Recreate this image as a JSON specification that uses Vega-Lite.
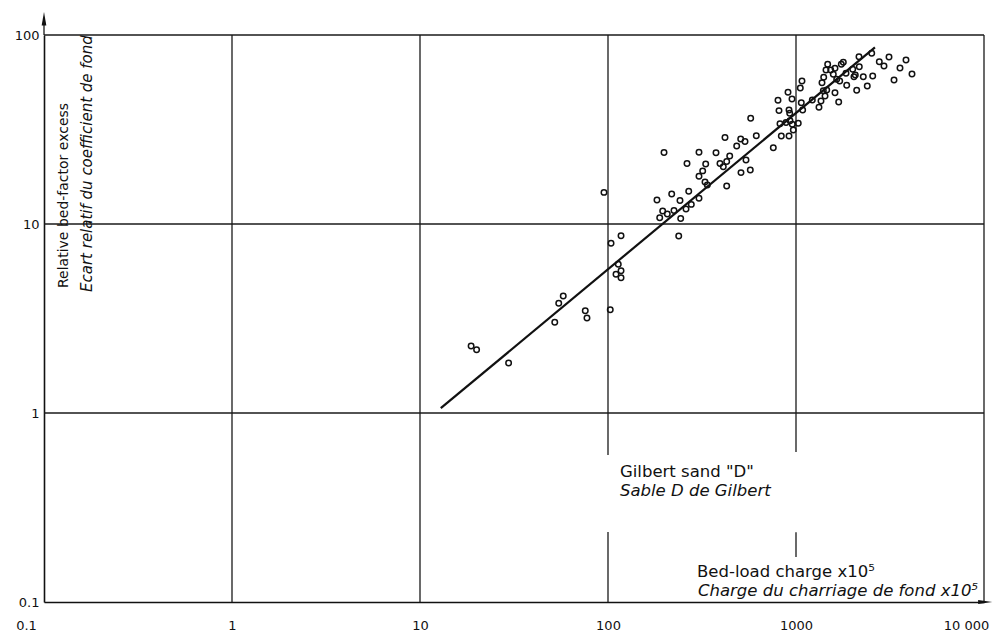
{
  "$schema": "https://vega.github.io/schema/vega-lite/v6.json",
  "autosize": "none",
  "width": 940,
  "height": 567,
  "padding": {"left": 44, "top": 35, "right": 12, "bottom": 35},
  "background": "white",
  "config": {"view": {"stroke": null}, "font": "DejaVu Sans"},
  "datasets": {
    "pts": [
      {"x": 18.7, "y": 2.26}, {"x": 20.0, "y": 2.16}, {"x": 29.6, "y": 1.84}, {"x": 52.1, "y": 3.02},
      {"x": 54.7, "y": 3.81}, {"x": 57.8, "y": 4.16}, {"x": 75.7, "y": 3.48}, {"x": 77.3, "y": 3.18},
      {"x": 102.8, "y": 3.52}, {"x": 95.2, "y": 14.7}, {"x": 103.8, "y": 7.9}, {"x": 117.3, "y": 8.67},
      {"x": 113.4, "y": 6.12}, {"x": 117.3, "y": 5.66}, {"x": 110.3, "y": 5.42}, {"x": 117.3, "y": 5.2},
      {"x": 182.2, "y": 13.4}, {"x": 218.2, "y": 14.4}, {"x": 198.6, "y": 23.9}, {"x": 263.2, "y": 20.9},
      {"x": 304.8, "y": 24.0}, {"x": 330.9, "y": 20.8}, {"x": 375.4, "y": 23.8}, {"x": 419.1, "y": 28.7},
      {"x": 508.0, "y": 28.2}, {"x": 535.5, "y": 27.3}, {"x": 483.7, "y": 25.9}, {"x": 614.9, "y": 29.3},
      {"x": 574.1, "y": 36.3}, {"x": 444.0, "y": 22.9}, {"x": 394.2, "y": 20.9}, {"x": 410.5, "y": 20.1},
      {"x": 427.9, "y": 21.4}, {"x": 318.9, "y": 19.1}, {"x": 304.8, "y": 17.9}, {"x": 328.1, "y": 16.7},
      {"x": 337.5, "y": 16.1}, {"x": 268.8, "y": 14.9}, {"x": 241.5, "y": 13.3}, {"x": 304.8, "y": 13.7},
      {"x": 542.0, "y": 21.8}, {"x": 509.8, "y": 18.7}, {"x": 571.3, "y": 19.3}, {"x": 427.9, "y": 15.9},
      {"x": 757.3, "y": 25.3}, {"x": 835.3, "y": 29.2}, {"x": 918.0, "y": 29.2}, {"x": 1028, "y": 34.1},
      {"x": 955.6, "y": 33.7}, {"x": 884.9, "y": 34.4}, {"x": 822.0, "y": 33.9}, {"x": 812.0, "y": 39.8},
      {"x": 918.0, "y": 40.1}, {"x": 925.8, "y": 38.5}, {"x": 952.1, "y": 45.9}, {"x": 906.8, "y": 49.8},
      {"x": 802.1, "y": 45.1}, {"x": 1067, "y": 43.8}, {"x": 1085, "y": 40.1}, {"x": 929.1, "y": 35.2},
      {"x": 967.4, "y": 31.4}, {"x": 1054, "y": 52.4}, {"x": 1076, "y": 57.1}, {"x": 1221, "y": 45.3},
      {"x": 1325, "y": 41.5}, {"x": 1358, "y": 44.8}, {"x": 1427, "y": 47.6}, {"x": 1397, "y": 50.7},
      {"x": 1457, "y": 51.2}, {"x": 1612, "y": 49.5}, {"x": 1687, "y": 44.2}, {"x": 1375, "y": 55.9},
      {"x": 1404, "y": 59.7}, {"x": 1474, "y": 70.0}, {"x": 1444, "y": 65.3}, {"x": 1530, "y": 65.3},
      {"x": 1579, "y": 62.0}, {"x": 1612, "y": 66.6}, {"x": 1742, "y": 70.0}, {"x": 1785, "y": 71.7},
      {"x": 1646, "y": 58.3}, {"x": 1708, "y": 57.1}, {"x": 1845, "y": 62.7}, {"x": 1861, "y": 54.2},
      {"x": 2003, "y": 65.8}, {"x": 2067, "y": 61.4}, {"x": 2171, "y": 68.0}, {"x": 2034, "y": 60.2},
      {"x": 2103, "y": 51.0}, {"x": 2280, "y": 60.2}, {"x": 2394, "y": 53.7}, {"x": 2559, "y": 60.7},
      {"x": 2163, "y": 76.8}, {"x": 2528, "y": 80.0}, {"x": 2774, "y": 72.2}, {"x": 188.4, "y": 10.8},
      {"x": 195.4, "y": 11.7}, {"x": 206.8, "y": 11.3}, {"x": 224.4, "y": 11.8}, {"x": 243.6, "y": 10.7},
      {"x": 260.0, "y": 12.0}, {"x": 277.4, "y": 12.7}, {"x": 237.8, "y": 8.64},
      {"x": 2938, "y": 68.5}, {"x": 3124, "y": 76.5}, {"x": 3322, "y": 57.8}, {"x": 3574, "y": 66.9},
      {"x": 3847, "y": 73.7}, {"x": 4140, "y": 62.2}
    ],
    "fit": [{"x": 12.9, "y": 1.06}, {"x": 2630, "y": 86}],
    "grid": [
      {"x": 1, "x2": 1, "y": 0.1, "y2": 100},
      {"x": 10, "x2": 10, "y": 0.1, "y2": 100},
      {"x": 100, "x2": 100, "y": 0.6, "y2": 100},
      {"x": 100, "x2": 100, "y": 0.1, "y2": 0.2346},
      {"x": 1000, "x2": 1000, "y": 0.622, "y2": 100},
      {"x": 1000, "x2": 1000, "y": 0.173, "y2": 0.2337},
      {"x": 10000, "x2": 10000, "y": 0.1, "y2": 100},
      {"x": 0.1, "x2": 10000, "y": 100, "y2": 100},
      {"x": 0.1, "x2": 10000, "y": 10, "y2": 10},
      {"x": 0.1, "x2": 10000, "y": 1, "y2": 1},
      {"x": 0.1, "x2": 0.1, "y": 100, "y2": 122},
      {"x": 10000, "x2": 10150, "y": 0.1, "y2": 0.1}
    ],
    "arrowY": [{"x": 0.1, "y": 122}],
    "arrowX": [{"x": 10150, "y": 0.1}],
    "txt": [
      {"x": 115.8, "y": 0.487, "t": "Gilbert sand \"D\""},
      {"x": 297.5, "y": 0.1441, "t": "Bed-load charge x10⁵"}
    ],
    "txti": [
      {"x": 115.8, "y": 0.3867, "t": "Sable D de Gilbert"},
      {"x": 301.1, "y": 0.1143, "t": "Charge du charriage de fond x10⁵"}
    ],
    "ytl": [{"x": 0.1278, "y": 4.586, "t": "Relative bed-factor excess"}],
    "ytli": [{"x": 0.1693, "y": 4.367, "t": "Ecart relatif du coefficient de fond"}]
  },
  "encoding": {
    "x": {
      "field": "x", "type": "quantitative",
      "scale": {"type": "log", "domain": [0.1, 10000], "nice": false},
      "axis": {
        "title": null, "grid": false, "ticks": false, "domain": true,
        "domainColor": "#111", "domainWidth": 1.6,
        "values": [0.1, 1, 10, 100, 1000, 10000],
        "labelExpr": "datum.value < 1 ? '0.1' : datum.value >= 10000 ? '10 000' : format(datum.value, 'd')",
        "labelAlign": "center",
        "labelOffset": {"condition": {"test": "datum.value < 1 || datum.value >= 10000", "value": -18}, "value": 0},
        "labelFont": "DejaVu Sans", "labelFontSize": 13, "labelColor": "#111",
        "labelPadding": 17, "labelFlush": false, "labelOverlap": false
      }
    },
    "y": {
      "field": "y", "type": "quantitative",
      "scale": {"type": "log", "domain": [0.1, 100], "nice": false},
      "axis": {
        "title": null, "grid": false, "ticks": false, "domain": true,
        "domainColor": "#111", "domainWidth": 1.6,
        "values": [0.1, 1, 10, 100],
        "labelExpr": "datum.value < 1 ? '0.1' : format(datum.value, 'd')",
        "labelFont": "DejaVu Sans", "labelFontSize": 13, "labelColor": "#111",
        "labelPadding": 5, "labelFlush": false, "labelOverlap": false
      }
    }
  },
  "layer": [
    {
      "data": {"name": "grid"},
      "mark": {"type": "rule", "color": "#1a1a1a", "strokeWidth": 1.3},
      "encoding": {"x2": {"field": "x2"}, "y2": {"field": "y2"}}
    },
    {
      "data": {"name": "arrowY"},
      "mark": {"type": "point", "shape": "M -0.35 1 L 0 -1 L 0.35 1 Z", "filled": true, "color": "#111", "size": 180, "opacity": 1}
    },
    {
      "data": {"name": "arrowX"},
      "mark": {"type": "point", "shape": "M -1 -0.3 L 1 0 L -1 0.3 Z", "filled": true, "color": "#111", "size": 200, "opacity": 1}
    },
    {
      "data": {"name": "fit"},
      "mark": {"type": "line", "color": "#111", "strokeWidth": 2.2}
    },
    {
      "data": {"name": "pts"},
      "mark": {"type": "point", "shape": "circle", "filled": false, "color": "#111", "size": 30, "strokeWidth": 1.5, "opacity": 1}
    },
    {
      "data": {"name": "txt"},
      "mark": {"type": "text", "align": "left", "baseline": "middle", "font": "DejaVu Sans", "fontSize": 16.5, "color": "#111"},
      "encoding": {"text": {"field": "t"}}
    },
    {
      "data": {"name": "txti"},
      "mark": {"type": "text", "align": "left", "baseline": "middle", "font": "DejaVu Sans", "fontSize": 16.5, "fontStyle": "italic", "color": "#111"},
      "encoding": {"text": {"field": "t"}}
    },
    {
      "data": {"name": "ytl"},
      "mark": {"type": "text", "align": "left", "baseline": "middle", "angle": 270, "font": "DejaVu Sans", "fontSize": 14, "color": "#111"},
      "encoding": {"text": {"field": "t"}}
    },
    {
      "data": {"name": "ytli"},
      "mark": {"type": "text", "align": "left", "baseline": "middle", "angle": 270, "font": "DejaVu Sans", "fontSize": 15, "fontStyle": "italic", "color": "#111"},
      "encoding": {"text": {"field": "t"}}
    }
  ]
}
